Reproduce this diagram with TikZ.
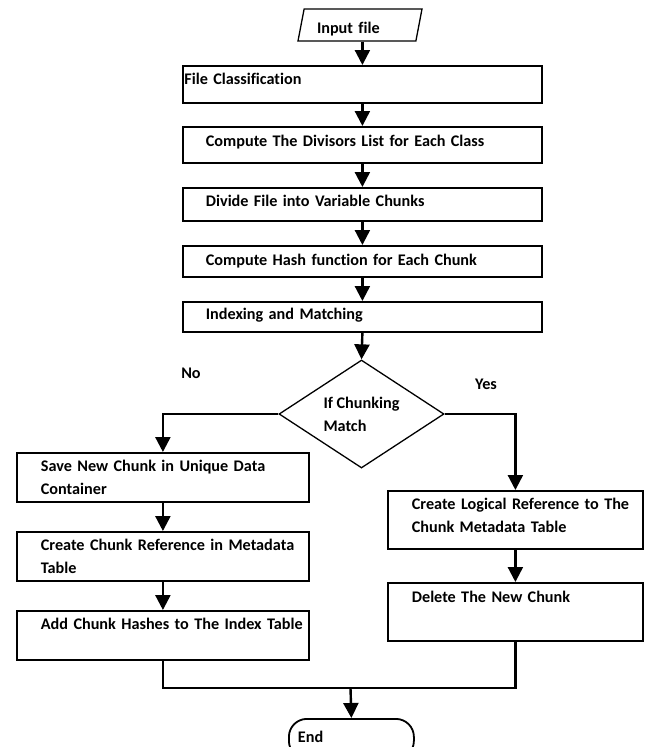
\documentclass[tikz,border=0pt]{standalone}
\usepackage{fontspec}
\setmainfont{Carlito}[Ligatures=NoCommon]
\usetikzlibrary{arrows.meta,shapes.geometric}

\tikzset{
  every node/.style={font=\fontsize{16.2}{23}\selectfont\bfseries},
  stepbox/.style={draw, line width=1.8pt, inner sep=0pt, anchor=north west, text width=#1},
  pad/.style={execute at begin node={\leftskip=#1\relax\hyphenpenalty=10000\relax}},
  arr/.style={line width=2.4pt, -{Triangle[length=15pt,width=15pt]}},
  link/.style={line width=2.4pt}
}

\begin{document}
\begin{tikzpicture}[x=1pt, y=-1pt]
  \useasboundingbox (0,0) rectangle (645,747);
  % input
  \node[trapezium, trapezium left angle=73, trapezium right angle=107,
    trapezium stretches body, draw, line width=1.3pt, inner sep=0pt,
    minimum width=124pt, minimum height=32pt, text width=86pt,
    text height=18pt, text depth=2pt] (in) at (360,25) {Input file};
  % main chain
  \node[stepbox=359pt, pad=1.5pt, text height=19pt, text depth=18pt] (fc) at (182,65) {File Classification};
  \node[stepbox=359pt, pad=23pt, text height=20pt, text depth=16pt] (dv) at (182,126) {Compute The Divisors List for Each Class};
  \node[stepbox=359pt, pad=23pt, text height=19pt, text depth=14pt] (df) at (182,187) {Divide File into Variable Chunks};
  \node[stepbox=359pt, pad=23pt, text height=20pt, text depth=11pt] (hs) at (182,245) {Compute Hash function for Each Chunk};
  \node[stepbox=359pt, pad=23pt, text height=18pt, text depth=12pt] (ix) at (182,301) {Indexing and Matching};
  % decision
  \node[diamond, aspect=1.5, draw, line width=1.3pt, inner sep=0pt,
    minimum width=165pt, minimum height=108pt, align=left] (dm) at (361.5,414) {If Chunking\\Match};
  \node (no) at (191,373) {No};
  \node (yes) at (486,384) {Yes};
  % no branch
  \node[stepbox=292pt, pad=24pt, text height=19pt, text depth=30pt] (sv) at (16,452) {Save New Chunk in Unique Data\\Container};
  \node[stepbox=292pt, pad=24pt, text height=19pt, text depth=30pt] (cr) at (16,531) {Create Chunk Reference in Metadata\\Table};
  \node[stepbox=292pt, pad=24pt, text height=19pt, text depth=30pt] (ad) at (16,610) {Add Chunk Hashes to The Index Table};
  % yes branch
  \node[stepbox=255pt, pad=24pt, text height=19pt, text depth=39pt] (cl) at (387,490) {Create Logical Reference to The\\Chunk Metadata Table};
  \node[stepbox=255pt, pad=24pt, text height=20pt, text depth=38pt] (dl) at (387,582) {Delete The New Chunk};
  % end
  \node[draw, line width=1.8pt, rounded corners=18pt, anchor=north west, inner sep=0pt,
    text width=125pt, pad=9pt, text height=24pt, text depth=16pt] (stop) at (288,718) {End};

  \draw[arr] (in.south -| fc.north) -- (fc.north);
  \foreach \a/\b in {fc/dv, dv/df, df/hs, hs/ix, ix/dm, sv/cr, cr/ad, cl/dl}
    \draw[arr] (\a.south) -- (\b.north);
  \draw[arr] (dm.west) -| (sv.north);
  \draw[arr] (dm.east) -| (cl.north);
  \coordinate (mg) at (350.5,688);
  \draw[link] (ad.south) |- (mg) -| (dl.south);
  \draw[arr] (mg) -- (stop.north);
\end{tikzpicture}
\end{document}
